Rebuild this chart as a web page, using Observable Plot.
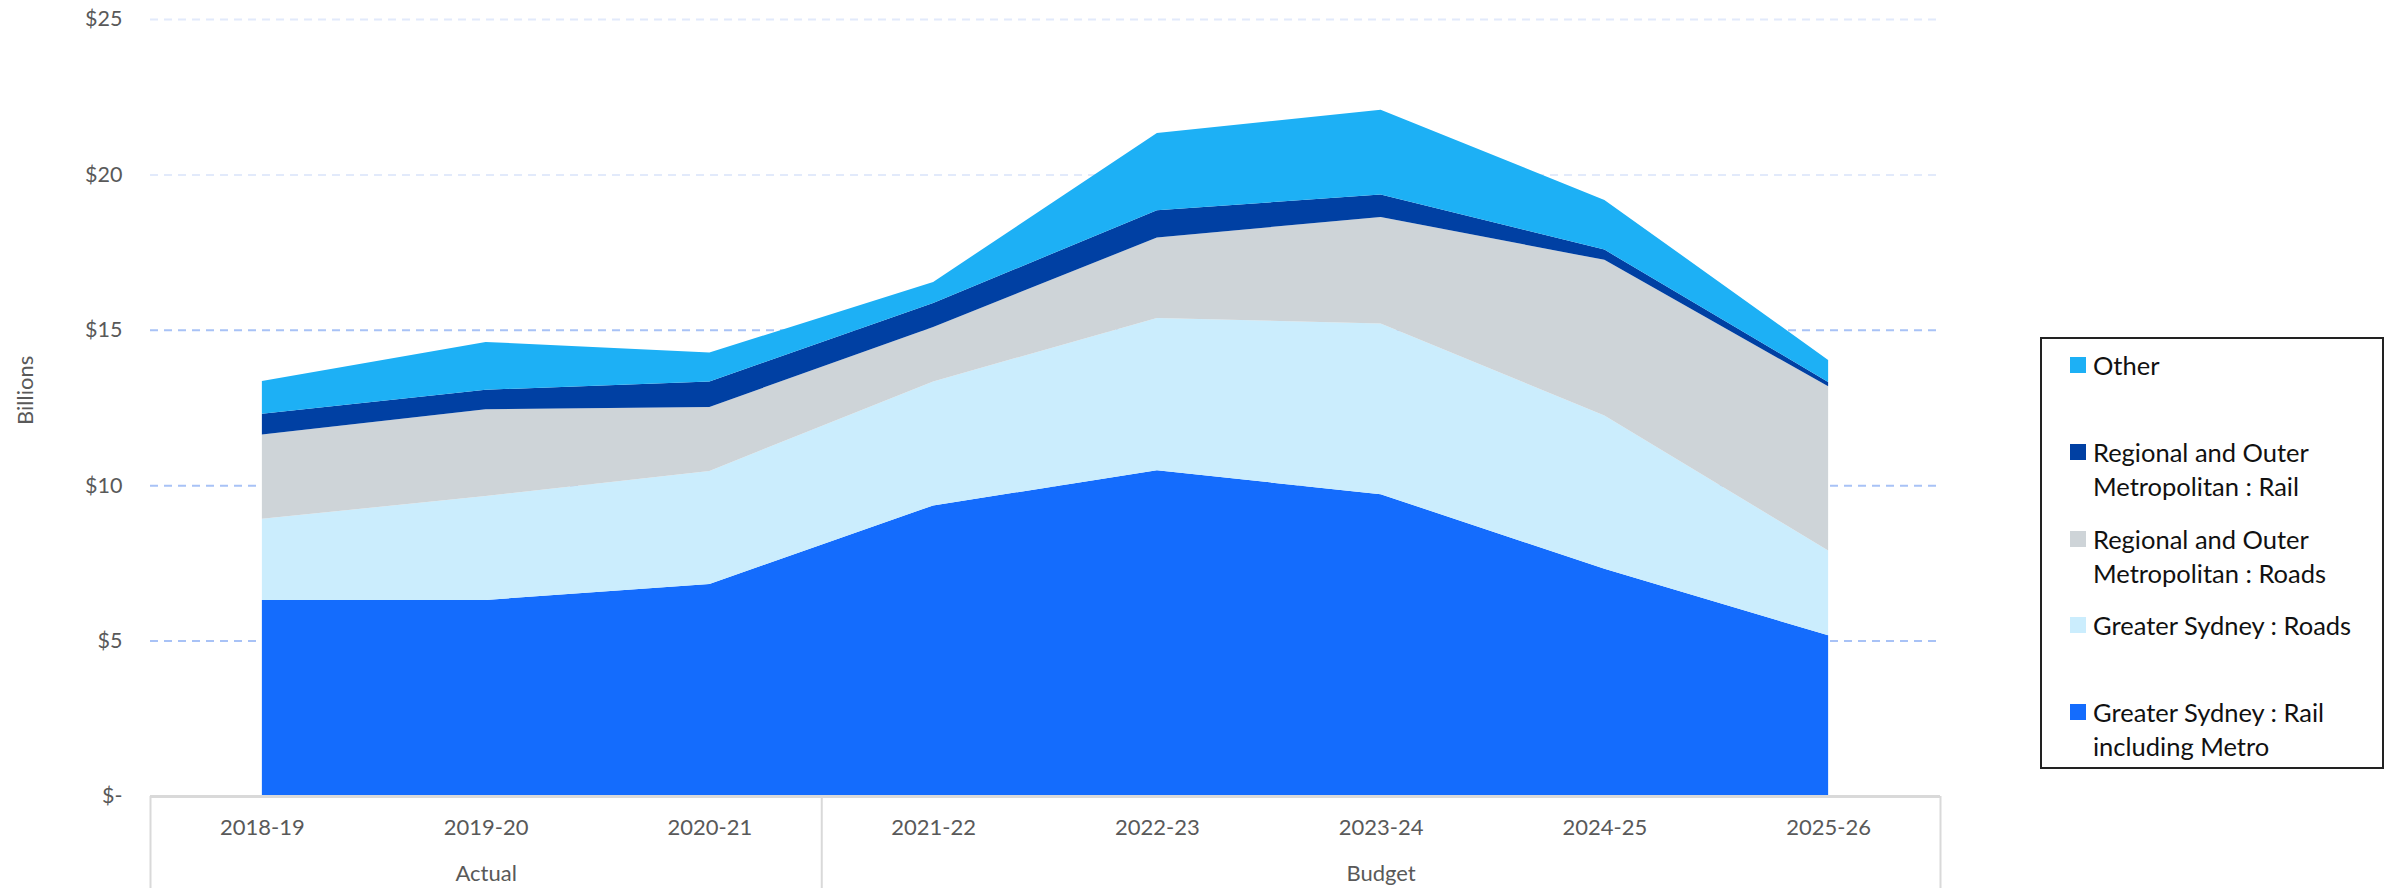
<!DOCTYPE html>
<html>
<head>
<meta charset="utf-8">
<script src="https://cdn.jsdelivr.net/npm/d3@7"></script>
<script src="https://cdn.jsdelivr.net/npm/@observablehq/plot@0.6"></script>
<style>
  html, body { margin: 0; padding: 0; background: #fff; }
  #wrap { position: relative; width: 2399px; height: 888px; font-family: Lato, "Open Sans", sans-serif; }
  #legend { position: absolute; left: 2040px; top: 337px; width: 344px; height: 432px; border: 2px solid #222; box-sizing: border-box; background: #fff; }
  .item { position: absolute; left: 28px; display: flex; align-items: flex-start; }
  .sw { width: 16px; height: 16px; margin-top: 9px; margin-right: 7px; flex: none; }
  .lab { font-size: 25.5px; line-height: 34px; color: #111; width: 290px; }
</style>
</head>
<body>
<div id="wrap"><div id="chart"></div><div id="legend"></div></div>
<script>
const years = ["2018-19","2019-20","2020-21","2021-22","2022-23","2023-24","2024-25","2025-26"];
const groups = ["Actual","Budget"];
const groupSpans = [[0, 2], [3, 7]];
const yTicks = [0, 5, 10, 15, 20, 25];

// Series (billions), bottom to top
const gsRail       = [6.31, 6.31, 6.82, 9.35, 10.48, 9.71, 7.31, 5.17];
const gsRoads      = [2.61, 3.34, 3.64, 3.99, 4.90, 5.49, 4.93, 2.73];
const regRoads     = [2.71, 2.79, 2.06, 1.75, 2.59, 3.43, 5.01, 5.28];
const regRail      = [0.67, 0.63, 0.82, 0.77, 0.88, 0.72, 0.33, 0.14];
const other        = [1.05, 1.54, 0.93, 0.68, 2.48, 2.73, 1.60, 0.71];

const seriesNames = [
  "Greater Sydney : Rail including Metro",
  "Greater Sydney : Roads",
  "Regional and Outer Metropolitan : Roads",
  "Regional and Outer Metropolitan : Rail",
  "Other"
];
const seriesValues = [gsRail, gsRoads, regRoads, regRail, other];
const seriesColors = ["#146CFD", "#CBEDFD", "#CED4D8", "#0040A3", "#1DB0F5"];

const data = [];
seriesNames.forEach((s, si) => {
  years.forEach((yr, i) => data.push({ i, year: yr, series: s, value: seriesValues[si][i] }));
});

const dividers = [groupSpans[0][0] - 0.5, groupSpans[0][1] + 0.5, groupSpans[1][1] + 0.5];
const groupLabels = groups.map((g, k) => ({ g, x: (groupSpans[k][0] + groupSpans[k][1]) / 2 }));

const chart = Plot.plot({
  width: 2399,
  height: 888,
  marginLeft: 150,
  marginRight: 459,
  marginTop: 19,
  marginBottom: 92,
  style: { fontFamily: "Lato, 'Open Sans', sans-serif", background: "#fff" },
  x: { type: "linear", domain: [-0.5, years.length - 0.5], axis: null },
  y: { domain: [0, 25], axis: null },
  color: { domain: seriesNames, range: seriesColors },
  marks: [
    Plot.ruleY([5, 10, 15], { stroke: "#a8c2f6", strokeWidth: 2, strokeDasharray: "8,6" }),
    Plot.ruleY([20, 25], { stroke: "#e2eafb", strokeWidth: 2, strokeDasharray: "8,6" }),
    Plot.areaY(data, Plot.stackY({ order: seriesNames }, { x: "i", y: "value", fill: "series", curve: "linear" })),
    Plot.ruleY([0], { stroke: "#d9d9d9", strokeWidth: 3 }),
    Plot.ruleX(dividers, { y1: 0, y2: 0, insetBottom: -92, stroke: "#d9d9d9", strokeWidth: 2 }),
    Plot.text(yTicks, { x: -0.5, y: d => d, text: d => d === 0 ? "$-" : "$" + d, textAnchor: "end", dx: -28, fontSize: 21.5, fill: "#595959" }),
    Plot.text(years, { x: (d, i) => i, y: 0, text: d => d, dy: 31, fontSize: 22, fill: "#595959" }),
    Plot.text(groupLabels, { x: "x", y: 0, text: "g", dy: 77, fontSize: 22, fill: "#595959" }),
    Plot.text(["Billions"], { frameAnchor: "left", dx: -125, dy: 17, rotate: -90, fontSize: 22, fill: "#595959" })
  ]
});
document.getElementById("chart").appendChild(chart);

// Legend (top to bottom as in the original)
const legend = document.getElementById("legend");
const legendOrder = [4, 3, 2, 1, 0];
const legendTops = [9, 96, 183, 269, 356];
legendOrder.forEach((si, k) => {
  const it = document.createElement("div");
  it.className = "item";
  it.style.top = legendTops[k] + "px";
  const sw = document.createElement("div");
  sw.className = "sw";
  sw.style.background = seriesColors[si];
  const lab = document.createElement("div");
  lab.className = "lab";
  lab.textContent = seriesNames[si];
  it.appendChild(sw); it.appendChild(lab);
  legend.appendChild(it);
});
</script>
</body>
</html>
